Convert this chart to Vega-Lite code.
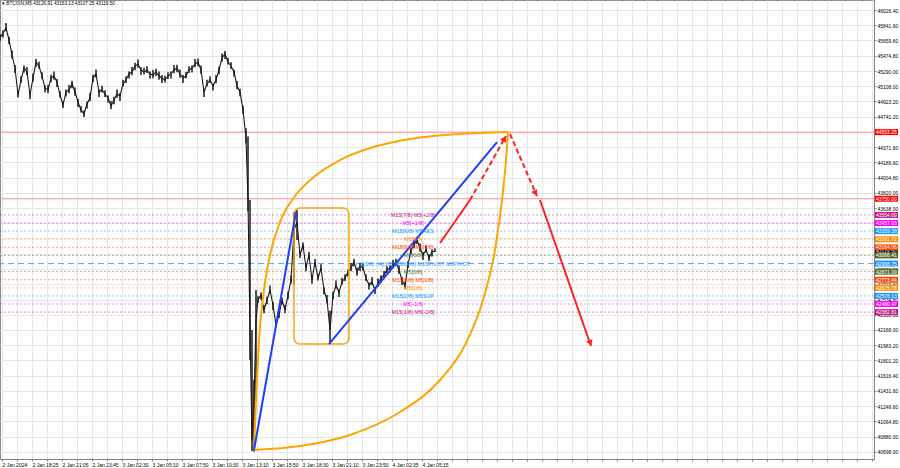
{
  "$schema": "https://vega.github.io/schema/vega-lite/v6.json",
  "width": 874,
  "height": 459,
  "autosize": {"type": "none"},
  "padding": {"left": 0, "top": 0, "right": 26, "bottom": 9},
  "background": "#ffffff",
  "config": {"view": {"stroke": "#8c8c8c"}, "font": "Liberation Sans"},
  "datasets": {
    "candles": [
      {"t":0,"c":45689,"h":45734,"l":45654},{"t":3,"c":45749,"h":45779,"l":45694},{"t":6,"c":45809,"h":45869,"l":45769},
      {"t":9,"c":45665,"h":45705,"l":45615},{"t":12,"c":45484,"h":45539,"l":45439},{"t":15,"c":45327,"h":45362,"l":45267},
      {"t":18,"c":45001,"h":45051,"l":44971},{"t":21,"c":45182,"h":45227,"l":45147},{"t":24,"c":45327,"h":45357,"l":45272},
      {"t":27,"c":45279,"h":45339,"l":45239},{"t":30,"c":45001,"h":45041,"l":44951},{"t":33,"c":45206,"h":45261,"l":45161},
      {"t":36,"c":45399,"h":45434,"l":45339},{"t":39,"c":45351,"h":45401,"l":45321},{"t":42,"c":45230,"h":45275,"l":45195},
      {"t":45,"c":45086,"h":45116,"l":45031},{"t":48,"c":45062,"h":45122,"l":45022},{"t":51,"c":45206,"h":45246,"l":45156},
      {"t":54,"c":45230,"h":45285,"l":45185},{"t":57,"c":45158,"h":45193,"l":45098},{"t":60,"c":45001,"h":45051,"l":44971},
      {"t":63,"c":44881,"h":44926,"l":44846},{"t":66,"c":45037,"h":45067,"l":44982},{"t":69,"c":45062,"h":45122,"l":45022},
      {"t":72,"c":45134,"h":45174,"l":45084},{"t":75,"c":45037,"h":45092,"l":44992},{"t":78,"c":44917,"h":44952,"l":44857},
      {"t":81,"c":44820,"h":44870,"l":44790},{"t":84,"c":44772,"h":44817,"l":44737},{"t":87,"c":44893,"h":44923,"l":44838},
      {"t":90,"c":44965,"h":45025,"l":44925},{"t":93,"c":45206,"h":45246,"l":45156},{"t":96,"c":45255,"h":45310,"l":45210},
      {"t":99,"c":45037,"h":45072,"l":44977},{"t":102,"c":45062,"h":45112,"l":45032},{"t":105,"c":45013,"h":45058,"l":44978},
      {"t":108,"c":44965,"h":44995,"l":44910},{"t":111,"c":44869,"h":44929,"l":44829},{"t":114,"c":44941,"h":44981,"l":44891},
      {"t":117,"c":45013,"h":45068,"l":44968},{"t":120,"c":44989,"h":45024,"l":44929},{"t":123,"c":45134,"h":45184,"l":45104},
      {"t":126,"c":45182,"h":45227,"l":45147},{"t":129,"c":45255,"h":45285,"l":45200},{"t":132,"c":45279,"h":45339,"l":45239},
      {"t":135,"c":45351,"h":45391,"l":45301},{"t":138,"c":45375,"h":45430,"l":45330},{"t":141,"c":45303,"h":45338,"l":45243},
      {"t":144,"c":45279,"h":45329,"l":45249},{"t":147,"c":45303,"h":45348,"l":45268},{"t":150,"c":45255,"h":45285,"l":45200},
      {"t":153,"c":45243,"h":45303,"l":45203},{"t":156,"c":45279,"h":45319,"l":45229},{"t":159,"c":45230,"h":45285,"l":45185},
      {"t":162,"c":45206,"h":45241,"l":45146},{"t":165,"c":45182,"h":45232,"l":45152},{"t":168,"c":45230,"h":45275,"l":45195},
      {"t":171,"c":45255,"h":45285,"l":45200},{"t":174,"c":45303,"h":45363,"l":45263},{"t":177,"c":45327,"h":45367,"l":45277},
      {"t":180,"c":45255,"h":45310,"l":45210},{"t":183,"c":45206,"h":45241,"l":45146},{"t":186,"c":45230,"h":45280,"l":45200},
      {"t":189,"c":45303,"h":45348,"l":45268},{"t":192,"c":45327,"h":45357,"l":45272},{"t":195,"c":45375,"h":45435,"l":45335},
      {"t":198,"c":45399,"h":45439,"l":45349},{"t":201,"c":45303,"h":45358,"l":45258},{"t":204,"c":45037,"h":45072,"l":44977},
      {"t":207,"c":45134,"h":45184,"l":45104},{"t":210,"c":45182,"h":45227,"l":45147},{"t":213,"c":45110,"h":45140,"l":45055},
      {"t":216,"c":45182,"h":45242,"l":45142},{"t":219,"c":45303,"h":45343,"l":45253},{"t":222,"c":45447,"h":45502,"l":45402},
      {"t":225,"c":45496,"h":45531,"l":45436},{"t":228,"c":45399,"h":45449,"l":45369},{"t":231,"c":45351,"h":45396,"l":45316},
      {"t":234,"c":45279,"h":45309,"l":45224},{"t":237,"c":45110,"h":45170,"l":45070},{"t":240,"c":45037,"h":45077,"l":44987},
      {"t":243,"c":44820,"h":44875,"l":44775},{"t":246,"c":44483,"h":44600,"l":44420},
      {"t":248,"c":43735,"h":44500,"l":43600},{"t":250,"c":42167,"h":43735,"l":41805},{"t":252,"c":40841,"h":42167,"l":40708},
      {"t":254,"c":41323,"h":41564,"l":40700},{"t":256,"c":42288,"h":42650,"l":41323},
      {"t":258,"c":42529,"h":42574,"l":42494},{"t":261,"c":42589,"h":42619,"l":42534},{"t":264,"c":42408,"h":42468,"l":42368},
      {"t":267,"c":42529,"h":42569,"l":42479},{"t":270,"c":42650,"h":42705,"l":42605},{"t":273,"c":42469,"h":42504,"l":42409},
      {"t":276,"c":42227,"h":42277,"l":42197},{"t":279,"c":42348,"h":42393,"l":42313},{"t":282,"c":42529,"h":42559,"l":42474},
      {"t":285,"c":42408,"h":42468,"l":42368},{"t":288,"c":42589,"h":42629,"l":42539},{"t":291,"c":42770,"h":42825,"l":42725},
      {"t":294,"c":43373,"h":43590,"l":42710},{"t":297,"c":43470,"h":43614,"l":43253},
      {"t":300,"c":43072,"h":43117,"l":43037},{"t":303,"c":43192,"h":43222,"l":43137},{"t":306,"c":42915,"h":42975,"l":42875},
      {"t":309,"c":43072,"h":43112,"l":43022},{"t":312,"c":42770,"h":42825,"l":42725},{"t":315,"c":42987,"h":43022,"l":42927},
      {"t":318,"c":42794,"h":42844,"l":42764},{"t":321,"c":42915,"h":42960,"l":42880},{"t":324,"c":42650,"h":42680,"l":42595},
      {"t":327,"c":42529,"h":42589,"l":42489},{"t":330,"c":42167,"h":42400,"l":42022},
      {"t":333,"c":42589,"h":42629,"l":42539},{"t":336,"c":42710,"h":42765,"l":42665},{"t":339,"c":42625,"h":42660,"l":42565},
      {"t":342,"c":42746,"h":42796,"l":42716},{"t":345,"c":42794,"h":42839,"l":42759},{"t":348,"c":42867,"h":42897,"l":42812},
      {"t":351,"c":42915,"h":42975,"l":42875},{"t":354,"c":42987,"h":43027,"l":42937},{"t":357,"c":42867,"h":42922,"l":42822},
      {"t":360,"c":42939,"h":42974,"l":42879},{"t":363,"c":42915,"h":42965,"l":42885},{"t":366,"c":42794,"h":42839,"l":42759},
      {"t":369,"c":42710,"h":42740,"l":42655},{"t":372,"c":42746,"h":42806,"l":42706},{"t":375,"c":42650,"h":42690,"l":42600},
      {"t":378,"c":42734,"h":42789,"l":42689},{"t":381,"c":42794,"h":42829,"l":42734},{"t":384,"c":42830,"h":42880,"l":42800},
      {"t":387,"c":42891,"h":42936,"l":42856},{"t":390,"c":42915,"h":42945,"l":42860},{"t":393,"c":42951,"h":43011,"l":42911},
      {"t":396,"c":42987,"h":43027,"l":42937},{"t":399,"c":42891,"h":42946,"l":42846},{"t":402,"c":42770,"h":42805,"l":42710},
      {"t":405,"c":42698,"h":42748,"l":42668},{"t":408,"c":42951,"h":42996,"l":42916},{"t":411,"c":43132,"h":43162,"l":43077},
      {"t":414,"c":43192,"h":43252,"l":43152},{"t":417,"c":43253,"h":43293,"l":43203},{"t":420,"c":43156,"h":43211,"l":43111},
      {"t":423,"c":43072,"h":43107,"l":43012},{"t":426,"c":43132,"h":43182,"l":43102},{"t":429,"c":43035,"h":43080,"l":43000},
      {"t":432,"c":43108,"h":43138,"l":43053},{"t":435,"c":43119.5,"h":43153.13,"l":43107.25}
    ],
    "levels": [
      {"p":43554.69,"k":"+2","txt":"M15[7/8] M5[+2/8]"},
      {"p":43457.03,"k":"+1","txt":"M5[+1/8]"},
      {"p":43359.38,"k":"res","txt":"M15[6/8] M5RES"},
      {"p":43261.72,"k":"8","txt":"M5[8/8]"},
      {"p":43164.06,"k":"7","txt":"M15[5/8] M5[7/8]"},
      {"p":43066.41,"k":"6","txt":"M5[6/8]"},
      {"p":42968.75,"k":"pivot","txt":"H1[3/8] H4[3/8] M30[4/8] M15PIVOT M5PIVOT"},
      {"p":42871.09,"k":"3","txt":"M5[3/8]"},
      {"p":42773.44,"k":"2","txt":"M15[3/8] M5[2/8]"},
      {"p":42675.78,"k":"1","txt":"M5[1/8]"},
      {"p":42578.13,"k":"sup","txt":"M15[2/8] M5SUP"},
      {"p":42480.47,"k":"-1","txt":"M5[-1/8]"},
      {"p":42382.81,"k":"-2","txt":"M15[1/8] M5[-2/8]"}
    ],
    "redlevels": [{"p":44553.25},{"p":43750.0}],
    "current": [{"p":43119.5}],
    "curves": [
      {"t":254,"p":40720,"k":"upper"},{"t":256,"p":41323,"k":"upper"},{"t":259,"p":42047,"k":"upper"},
      {"t":264,"p":42650,"k":"upper"},{"t":270,"p":43072,"k":"upper"},{"t":280,"p":43470,"k":"upper"},
      {"t":295,"p":43783,"k":"upper"},{"t":315,"p":44024,"k":"upper"},{"t":340,"p":44217,"k":"upper"},
      {"t":370,"p":44362,"k":"upper"},{"t":410,"p":44471,"k":"upper"},{"t":460,"p":44531,"k":"upper"},
      {"t":508,"p":44555,"k":"upper"},
      {"t":254,"p":40720,"k":"lower"},{"t":300,"p":40768,"k":"lower"},{"t":350,"p":40901,"k":"lower"},
      {"t":400,"p":41178,"k":"lower"},{"t":440,"p":41564,"k":"lower"},{"t":465,"p":41986,"k":"lower"},
      {"t":483,"p":42529,"k":"lower"},{"t":495,"p":43132,"k":"lower"},{"t":502,"p":43735,"k":"lower"},
      {"t":506,"p":44217,"k":"lower"},{"t":508,"p":44555,"k":"lower"}
    ],
    "box": [{"t":294,"t2":349,"p":43638,"p2":41998}],
    "trend": [
      {"t":254,"p":40720,"k":"a"},{"t":296,"p":43590,"k":"a"},
      {"t":329,"p":41998,"k":"b"},{"t":497,"p":44434,"k":"b"}
    ],
    "arrows": [
      {"t":440,"p":43216,"seg":"s1"},{"t":470,"p":43735,"seg":"s1"},
      {"t":470,"p":43735,"seg":"s2"},{"t":506,"p":44507,"seg":"s2"},
      {"t":510,"p":44531,"seg":"s3"},{"t":537,"p":43783,"seg":"s3"},
      {"t":540,"p":43735,"seg":"s4"},{"t":591,"p":41974,"seg":"s4"}
    ],
    "heads": [
      {"t":504,"p":44465,"seg":"s2"},
      {"t":535,"p":43828,"seg":"s3"},
      {"t":590,"p":42020,"seg":"s4"}
    ],
    "header": [{"t":2,"p":46095,"txt":"▾ BTCOIN,M5  43126.91 43153.13 43107.25 43119.50"}]
  },
  "layer": [
    {
      "data": {"name": "redlevels"},
      "mark": {"type": "rule", "color": "#ff8a8a", "strokeWidth": 1},
      "encoding": {
        "y": {"field": "p", "type": "quantitative", "title": null, "scale": {"domain": [40611.5, 46147], "nice": false, "zero": false}}
      }
    },
    {
      "data": {"name": "levels"},
      "transform": [{"filter": "datum.k != 'pivot'"}],
      "mark": {"type": "rule", "strokeWidth": 1, "strokeDash": [2, 2], "opacity": 0.5},
      "encoding": {
        "y": {"field": "p", "type": "quantitative", "title": null, "scale": {"domain": [40611.5, 46147], "nice": false, "zero": false}},
        "color": {"field": "k", "type": "nominal", "legend": null,
          "scale": {"domain": ["+2","+1","res","8","7","6","pivot","3","2","1","sup","-1","-2"],
                    "range": ["#c71585","#ff00ff","#1e90ff","#ff8c00","#ff4500","#556b2f","#1e90ff","#556b2f","#ff4500","#ff8c00","#1e90ff","#ff00ff","#c71585"]}}
      }
    },
    {
      "data": {"name": "levels"},
      "transform": [{"filter": "datum.k == 'pivot'"}],
      "mark": {"type": "rule", "strokeWidth": 1, "strokeDash": [6, 4], "opacity": 1, "color": "#55aaff"},
      "encoding": {
        "y": {"field": "p", "type": "quantitative", "title": null, "scale": {"domain": [40611.5, 46147], "nice": false, "zero": false}}
      }
    },
    {
      "data": {"name": "candles"},
      "mark": {"type": "rule", "color": "#1a1a1a", "strokeWidth": 1.5},
      "encoding": {
        "x": {"field": "t", "type": "quantitative", "title": null,
          "scale": {"domain": [0, 874], "nice": false, "zero": false},
          "axis": {"orient": "bottom", "title": null, "tickCount": 200,
            "values": [2,17,32,47,62,77,92,107,122,137,152,167,182,197,212,227,242,257,272,287,302,317,332,347,362,377,392,407,422,437,452,467,482,497,512,527,542,557,572,587,602,617,632,647,662,677,692,707,722,737,752,767,782,797,812,827,842,857,872],
            "labelExpr": "datum.value <= 422 && (datum.value - 2) % 30 == 0 ? ['2 Jan 2024','2 Jan 18:25','2 Jan 21:05','2 Jan 23:45','3 Jan 02:30','3 Jan 05:10','3 Jan 07:50','3 Jan 10:30','3 Jan 13:10','3 Jan 15:50','3 Jan 18:30','3 Jan 21:10','3 Jan 23:50','4 Jan 02:35','4 Jan 05:15'][(datum.value - 2) / 30] : ''",
            "grid": true, "gridColor": "#e6e6e6", "gridWidth": 1,
            "tickSize": 2, "tickColor": "#808080", "domainColor": "#808080",
            "labelFontSize": 5, "labelFont": "Liberation Sans", "labelColor": "#000000",
            "labelAlign": "left", "labelBaseline": "top", "labelPadding": 1,
            "labelFlush": false, "labelOverlap": false}},
        "y": {"field": "l", "type": "quantitative", "title": null,
          "scale": {"domain": [40611.5, 46147], "nice": false, "zero": false},
          "axis": {"orient": "right", "title": null, "tickCount": 200,
            "values": [46026.4,45841.6,45659.6,45474.8,45290,45108,44923.2,44741.2,44556.4,44371.6,44189.6,44004.8,43820,43638,43453.2,43271.2,43086.4,42901.6,42719.6,42534.8,42350,42168,41983.2,41801.2,41616.4,41431.6,41249.6,41064.8,40880,40698],
            "format": ".2f",
            "grid": true, "gridColor": "#e6e6e6", "gridWidth": 1,
            "tickSize": 2, "tickColor": "#808080", "domainColor": "#808080",
            "labelFontSize": 5, "labelFont": "Liberation Sans", "labelColor": "#000000",
            "labelAlign": "left", "labelPadding": 1,
            "labelFlush": false, "labelOverlap": false}},
        "y2": {"field": "h"}
      }
    },
    {
      "data": {"name": "candles"},
      "mark": {"type": "line", "color": "#1a1a1a", "strokeWidth": 1.1},
      "encoding": {
        "x": {"field": "t", "type": "quantitative", "title": null, "scale": {"domain": [0, 874], "nice": false, "zero": false}},
        "y": {"field": "c", "type": "quantitative", "title": null, "scale": {"domain": [40611.5, 46147], "nice": false, "zero": false}}
      }
    },
    {
      "data": {"name": "curves"},
      "mark": {"type": "line", "color": "#ffa500", "strokeWidth": 2, "interpolate": "monotone"},
      "encoding": {
        "x": {"field": "t", "type": "quantitative", "title": null, "scale": {"domain": [0, 874], "nice": false, "zero": false}},
        "y": {"field": "p", "type": "quantitative", "title": null, "scale": {"domain": [40611.5, 46147], "nice": false, "zero": false}},
        "detail": {"field": "k"}
      }
    },
    {
      "data": {"name": "box"},
      "mark": {"type": "rect", "filled": false, "stroke": "#ffa500", "strokeWidth": 1.5, "cornerRadius": 6},
      "encoding": {
        "x": {"field": "t", "type": "quantitative", "title": null, "scale": {"domain": [0, 874], "nice": false, "zero": false}},
        "x2": {"field": "t2"},
        "y": {"field": "p", "type": "quantitative", "title": null, "scale": {"domain": [40611.5, 46147], "nice": false, "zero": false}},
        "y2": {"field": "p2"}
      }
    },
    {
      "data": {"name": "trend"},
      "mark": {"type": "line", "color": "#1f3cff", "strokeWidth": 2},
      "encoding": {
        "x": {"field": "t", "type": "quantitative", "title": null, "scale": {"domain": [0, 874], "nice": false, "zero": false}},
        "y": {"field": "p", "type": "quantitative", "title": null, "scale": {"domain": [40611.5, 46147], "nice": false, "zero": false}},
        "detail": {"field": "k"}
      }
    },
    {
      "data": {"name": "levels"},
      "mark": {"type": "text", "fontSize": 5.5, "font": "Liberation Sans", "align": "center", "baseline": "middle"},
      "encoding": {
        "x": {"datum": 413, "type": "quantitative", "title": null, "scale": {"domain": [0, 874], "nice": false, "zero": false}},
        "y": {"field": "p", "type": "quantitative", "title": null, "scale": {"domain": [40611.5, 46147], "nice": false, "zero": false}},
        "text": {"field": "txt"},
        "color": {"field": "k", "type": "nominal", "legend": null,
          "scale": {"domain": ["+2","+1","res","8","7","6","pivot","3","2","1","sup","-1","-2"],
                    "range": ["#c71585","#ff00ff","#1e90ff","#ff8c00","#ff4500","#556b2f","#1e90ff","#556b2f","#ff4500","#ff8c00","#1e90ff","#ff00ff","#c71585"]}}
      }
    },
    {
      "data": {"name": "arrows"},
      "transform": [{"filter": "datum.seg == 's1' || datum.seg == 's4'"}],
      "mark": {"type": "line", "color": "#ff2020", "strokeWidth": 2},
      "encoding": {
        "x": {"field": "t", "type": "quantitative", "title": null, "scale": {"domain": [0, 874], "nice": false, "zero": false}},
        "y": {"field": "p", "type": "quantitative", "title": null, "scale": {"domain": [40611.5, 46147], "nice": false, "zero": false}},
        "detail": {"field": "seg"}
      }
    },
    {
      "data": {"name": "arrows"},
      "transform": [{"filter": "datum.seg == 's2' || datum.seg == 's3'"}],
      "mark": {"type": "line", "color": "#ff2020", "strokeWidth": 2, "strokeDash": [5, 3]},
      "encoding": {
        "x": {"field": "t", "type": "quantitative", "title": null, "scale": {"domain": [0, 874], "nice": false, "zero": false}},
        "y": {"field": "p", "type": "quantitative", "title": null, "scale": {"domain": [40611.5, 46147], "nice": false, "zero": false}},
        "detail": {"field": "seg"}
      }
    },
    {
      "data": {"name": "heads"},
      "transform": [{"filter": "datum.seg == 's2'"}],
      "mark": {"type": "point", "shape": "triangle", "filled": true, "color": "#ff2020", "size": 45, "angle": 29, "opacity": 1},
      "encoding": {
        "x": {"field": "t", "type": "quantitative", "title": null, "scale": {"domain": [0, 874], "nice": false, "zero": false}},
        "y": {"field": "p", "type": "quantitative", "title": null, "scale": {"domain": [40611.5, 46147], "nice": false, "zero": false}}
      }
    },
    {
      "data": {"name": "heads"},
      "transform": [{"filter": "datum.seg == 's3'"}],
      "mark": {"type": "point", "shape": "triangle", "filled": true, "color": "#ff2020", "size": 45, "angle": 156, "opacity": 1},
      "encoding": {
        "x": {"field": "t", "type": "quantitative", "title": null, "scale": {"domain": [0, 874], "nice": false, "zero": false}},
        "y": {"field": "p", "type": "quantitative", "title": null, "scale": {"domain": [40611.5, 46147], "nice": false, "zero": false}}
      }
    },
    {
      "data": {"name": "heads"},
      "transform": [{"filter": "datum.seg == 's4'"}],
      "mark": {"type": "point", "shape": "triangle", "filled": true, "color": "#ff2020", "size": 45, "angle": 161, "opacity": 1},
      "encoding": {
        "x": {"field": "t", "type": "quantitative", "title": null, "scale": {"domain": [0, 874], "nice": false, "zero": false}},
        "y": {"field": "p", "type": "quantitative", "title": null, "scale": {"domain": [40611.5, 46147], "nice": false, "zero": false}}
      }
    },
    {
      "data": {"name": "header"},
      "mark": {"type": "text", "fontSize": 4.7, "font": "Liberation Sans", "align": "left", "baseline": "middle", "color": "#000000"},
      "encoding": {
        "x": {"field": "t", "type": "quantitative", "title": null, "scale": {"domain": [0, 874], "nice": false, "zero": false}},
        "y": {"field": "p", "type": "quantitative", "title": null, "scale": {"domain": [40611.5, 46147], "nice": false, "zero": false}},
        "text": {"field": "txt"}
      }
    },
    {
      "data": {"name": "current"},
      "mark": {"type": "rule", "strokeWidth": 6, "color": "#000000", "strokeCap": "butt"},
      "encoding": {
        "x": {"datum": 875, "type": "quantitative", "title": null, "scale": {"domain": [0, 874], "nice": false, "zero": false}},
        "x2": {"datum": 898},
        "y": {"field": "p", "type": "quantitative", "title": null, "scale": {"domain": [40611.5, 46147], "nice": false, "zero": false}}
      }
    },
    {
      "data": {"name": "current"},
      "mark": {"type": "text", "fontSize": 5, "font": "Liberation Sans", "align": "left", "baseline": "middle", "color": "#ffffff"},
      "encoding": {
        "x": {"datum": 876, "type": "quantitative", "title": null, "scale": {"domain": [0, 874], "nice": false, "zero": false}},
        "y": {"field": "p", "type": "quantitative", "title": null, "scale": {"domain": [40611.5, 46147], "nice": false, "zero": false}},
        "text": {"field": "p", "type": "quantitative", "format": ".2f"}
      }
    },
    {
      "data": {"name": "redlevels"},
      "mark": {"type": "rule", "strokeWidth": 6, "color": "#ff0000", "strokeCap": "butt"},
      "encoding": {
        "x": {"datum": 875, "type": "quantitative", "title": null, "scale": {"domain": [0, 874], "nice": false, "zero": false}},
        "x2": {"datum": 898},
        "y": {"field": "p", "type": "quantitative", "title": null, "scale": {"domain": [40611.5, 46147], "nice": false, "zero": false}}
      }
    },
    {
      "data": {"name": "levels"},
      "mark": {"type": "rule", "strokeWidth": 6, "strokeCap": "butt"},
      "encoding": {
        "x": {"datum": 875, "type": "quantitative", "title": null, "scale": {"domain": [0, 874], "nice": false, "zero": false}},
        "x2": {"datum": 898},
        "y": {"field": "p", "type": "quantitative", "title": null, "scale": {"domain": [40611.5, 46147], "nice": false, "zero": false}},
        "color": {"field": "k", "type": "nominal", "legend": null,
          "scale": {"domain": ["+2","+1","res","8","7","6","pivot","3","2","1","sup","-1","-2"],
                    "range": ["#c71585","#ff00ff","#1e90ff","#ff8c00","#ff4500","#556b2f","#1e90ff","#556b2f","#ff4500","#ff8c00","#1e90ff","#ff00ff","#c71585"]}}
      }
    },
    {
      "data": {"name": "redlevels"},
      "mark": {"type": "text", "fontSize": 5, "font": "Liberation Sans", "align": "left", "baseline": "middle", "color": "#ffffff"},
      "encoding": {
        "x": {"datum": 876, "type": "quantitative", "title": null, "scale": {"domain": [0, 874], "nice": false, "zero": false}},
        "y": {"field": "p", "type": "quantitative", "title": null, "scale": {"domain": [40611.5, 46147], "nice": false, "zero": false}},
        "text": {"field": "p", "type": "quantitative", "format": ".2f"}
      }
    },
    {
      "data": {"name": "levels"},
      "mark": {"type": "text", "fontSize": 5, "font": "Liberation Sans", "align": "left", "baseline": "middle", "color": "#ffffff"},
      "encoding": {
        "x": {"datum": 876, "type": "quantitative", "title": null, "scale": {"domain": [0, 874], "nice": false, "zero": false}},
        "y": {"field": "p", "type": "quantitative", "title": null, "scale": {"domain": [40611.5, 46147], "nice": false, "zero": false}},
        "text": {"field": "p", "type": "quantitative", "format": ".2f"}
      }
    }
  ]
}
